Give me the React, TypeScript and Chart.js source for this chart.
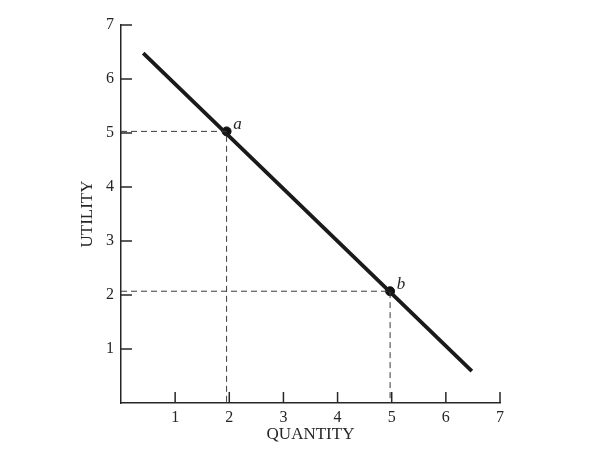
import React, { useEffect, useRef } from 'react';
import { Chart, registerables } from 'chart.js';
Chart.register(...registerables);

const xTicks = [1, 2, 3, 4, 5, 6, 7];
const yTicks = [1, 2, 3, 4, 5, 6, 7];
const lineX = [0.41, 6.48];
const lineY = [6.48, 0.59];
const pointNames = ['a', 'b'];
const pointX = [1.95, 4.97];
const pointY = [5.03, 2.07];
const xTitle = 'QUANTITY';
const yTitle = 'UTILITY';

const SERIF = '"Liberation Serif", "DejaVu Serif", serif';
const INK = '#262626';

const inwardTicks = {
  id: 'inwardTicks',
  afterDraw(chart: any) {
    const { ctx, scales, chartArea } = chart;
    const x = scales.x;
    const y = scales.y;
    ctx.save();
    ctx.strokeStyle = INK;
    ctx.lineWidth = 1.5;
    xTicks.forEach((v) => {
      const px = x.getPixelForValue(v);
      ctx.beginPath();
      ctx.moveTo(px, chartArea.bottom);
      ctx.lineTo(px, chartArea.bottom - 11);
      ctx.stroke();
    });
    yTicks.forEach((v) => {
      const py = y.getPixelForValue(v);
      ctx.beginPath();
      ctx.moveTo(chartArea.left, py);
      ctx.lineTo(chartArea.left + 11, py);
      ctx.stroke();
    });
    ctx.fillStyle = INK;
    ctx.font = `italic 17px ${SERIF}`;
    ctx.textAlign = 'center';
    ctx.textBaseline = 'middle';
    pointNames.forEach((n, i) => {
      const px = x.getPixelForValue(pointX[i]);
      const py = y.getPixelForValue(pointY[i]);
      ctx.fillText(n, px + 11, py - 7);
    });
    ctx.restore();
  },
};

export default function App() {
  const ref = useRef<HTMLCanvasElement | null>(null);

  useEffect(() => {
    if (!ref.current) return;
    const guides = pointX.map((px, i) => ({
      type: 'scatter' as const,
      data: [
        { x: 0, y: pointY[i] },
        { x: px, y: pointY[i] },
        { x: px, y: 0 },
      ],
      showLine: true,
      borderColor: '#3a3a3a',
      borderWidth: 1,
      borderDash: [6, 4],
      pointRadius: 0,
      clip: false as const,
    }));
    const chart = new Chart(ref.current, {
      type: 'scatter',
      data: {
        datasets: [
          ...guides,
          {
            data: lineX.map((vx, i) => ({ x: vx, y: lineY[i] })),
            showLine: true,
            borderColor: '#1a1a1a',
            borderWidth: 3.8,
            pointRadius: 0,
          },
          {
            data: pointX.map((vx, i) => ({ x: vx, y: pointY[i] })),
            showLine: false,
            pointRadius: 4.5,
            backgroundColor: '#111',
            borderColor: '#111',
          },
        ],
      },
      options: {
        responsive: false,
        animation: false,
        layout: { padding: { top: 25, right: 100, bottom: 0, left: 0 } },
        plugins: { legend: { display: false }, tooltip: { enabled: false } },
        scales: {
          x: {
            type: 'linear',
            position: 'bottom',
            min: 0,
            max: 7,
            afterFit: (s: any) => {
              s.height = 59;
            },
            grid: { display: true, drawOnChartArea: false, drawTicks: false },
            border: { display: true, color: INK, width: 1.5 },
            ticks: {
              stepSize: 1,
              autoSkip: false,
              maxRotation: 0,
              padding: 5,
              color: INK,
              font: { family: SERIF, size: 16 },
              callback: (v: any) => (Number(v) === 0 ? '' : String(v)),
            },
            title: {
              display: true,
              text: xTitle,
              color: INK,
              font: { family: SERIF, size: 17 },
              padding: { top: 0, bottom: 17 },
            },
          },
          y: {
            type: 'linear',
            position: 'left',
            min: 0,
            max: 7,
            afterFit: (s: any) => {
              s.width = 121;
            },
            grid: { display: true, drawOnChartArea: false, drawTicks: false },
            border: { display: true, color: INK, width: 1.5 },
            ticks: {
              stepSize: 1,
              autoSkip: false,
              padding: 7,
              color: INK,
              font: { family: SERIF, size: 16 },
              callback: (v: any) => (Number(v) === 0 ? '' : String(v)),
            },
            title: {
              display: true,
              text: yTitle,
              color: INK,
              font: { family: SERIF, size: 17 },
              padding: { top: 77, bottom: 0 },
            },
          },
        },
      },
      plugins: [inwardTicks],
    });
    return () => chart.destroy();
  }, []);

  return (
    <div style={{ position: 'fixed', left: 0, top: 0, width: 600, height: 462, background: '#fff' }}>
      <canvas ref={ref} width={600} height={462} style={{ width: 600, height: 462, display: 'block' }} />
    </div>
  );
}
